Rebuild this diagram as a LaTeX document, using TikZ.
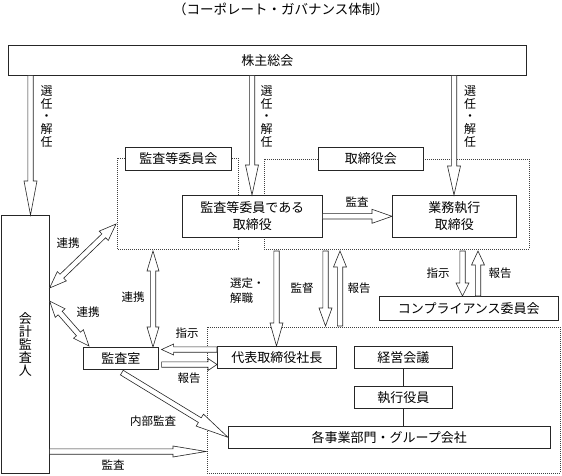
\documentclass[tikz,border=0pt]{standalone}
\usepackage{fontspec}
\setmainfont{Noto Sans CJK JP}
\usetikzlibrary{calc}
% hollow block arrow: {head length}{head half width}{start}{end}
\newcommand{\HArrow}[4]{%
  \coordinate (hArS) at (#3);
  \coordinate (hArE) at (#4);
  \coordinate (hArH) at ($(hArE)!#1pt!(hArS)$);
  \draw[harrow] ($(hArS)!2.7pt!90:(hArE)$) -- ($(hArH)!2.7pt!90:(hArE)$)
    -- ($(hArH)!#2pt!90:(hArE)$) -- (hArE) -- ($(hArH)!#2pt!-90:(hArE)$)
    -- ($(hArH)!2.7pt!-90:(hArE)$) -- ($(hArS)!2.7pt!-90:(hArE)$) -- cycle;
}
% double-headed hollow arrow
\newcommand{\HDArrow}[4]{%
  \coordinate (hArS) at (#3);
  \coordinate (hArE) at (#4);
  \coordinate (hArH) at ($(hArE)!#1pt!(hArS)$);
  \coordinate (hArT) at ($(hArS)!#1pt!(hArE)$);
  \draw[harrow] (hArS) -- ($(hArT)!#2pt!90:(hArE)$) -- ($(hArT)!2.7pt!90:(hArE)$)
    -- ($(hArH)!2.7pt!90:(hArE)$) -- ($(hArH)!#2pt!90:(hArE)$) -- (hArE)
    -- ($(hArH)!#2pt!-90:(hArE)$) -- ($(hArH)!2.7pt!-90:(hArE)$)
    -- ($(hArT)!2.7pt!-90:(hArE)$) -- ($(hArT)!#2pt!-90:(hArE)$) -- cycle;
}
\tikzset{
  harrow/.style={draw=black!85, line width=0.6pt, fill=white, line join=miter},
  box/.style={draw=black!85, line width=0.6pt, fill=white, anchor=north west,
    inner sep=0pt, align=center, font=\fontsize{13}{17}\selectfont},
  lbl/.style={inner sep=0pt, align=center, font=\fontsize{11.5}{15}\selectfont},
  vlbl/.style={inner sep=0pt, align=center, font=\fontsize{12}{12.6}\selectfont},
  region/.style={draw=black!75, line width=0.6pt, dash pattern=on 0.8pt off 1.2pt},
}
\begin{document}
\begin{tikzpicture}[x=1pt,y=-1pt]
\useasboundingbox (0,0) rectangle (562,475);

% title
\node[inner sep=0pt, font=\fontsize{13.5}{15}\selectfont] (title) at (281,9) {（コーポレート・ガバナンス体制）};

% dotted regions
\draw[region] (117,158) rectangle (238,249);
\draw[region] (264,159) rectangle (529,249);
\draw[region] (207,327) rectangle (560,473);

% boxes
\node[box, minimum width=518pt, minimum height=30pt] (gm) at (8,45) {株主総会};
\node[box, minimum width=48pt, minimum height=258pt, font=\fontsize{13}{13}\selectfont] (aud) at (1,215) {会\\計\\監\\査\\人};
\node[box, minimum width=106pt, minimum height=23pt] (acc) at (125,147) {監査等委員会};
\node[box, minimum width=105pt, minimum height=23pt] (bd) at (318,147) {取締役会};
\node[box, minimum width=140pt, minimum height=42pt] (acm) at (182,195) {監査等委員である\\取締役};
\node[box, minimum width=124pt, minimum height=42pt] (exe) at (392,195) {業務執行\\取締役};
\node[box, minimum width=179pt, minimum height=24pt] (comp) at (379,296) {コンプライアンス委員会};
\node[box, minimum width=75pt, minimum height=22pt] (mon) at (83,347) {監査室};
\node[box, minimum width=119pt, minimum height=22pt] (pres) at (217,346) {代表取締役社長};
\node[box, minimum width=98pt, minimum height=22pt] (mgmt) at (354,346) {経営会議};
\node[box, minimum width=98pt, minimum height=22pt] (off) at (354,386) {執行役員};
\node[box, minimum width=322pt, minimum height=22pt] (biz) at (228,426) {各事業部門・グループ会社};

% plain lines
\draw[black!85, line width=0.6pt] (mgmt.south) -- (off.north);
\draw[black!85, line width=0.6pt] (off.south) -- (off.south |- biz.north);

% helper coordinates
\coordinate (x1) at (30.5,0);
\coordinate (x2) at (252,0);
\coordinate (x3) at (454,0);
\coordinate (x4) at (276.5,0);
\coordinate (x5) at (325.5,0);
\coordinate (x6) at (340,0);
\coordinate (x7) at (462.5,0);
\coordinate (x8) at (478,0);
\coordinate (x9) at (153,0);
\coordinate (rb) at (0,251);
\coordinate (r3t) at (0,326);
\coordinate (r3l) at (206,0);
\coordinate (r1l) at (116,224);
\coordinate (yi) at (0,349.5);
\coordinate (yr) at (0,364.5);
\coordinate (yb) at (0,451.5);
\coordinate (y288) at (0,288);
\coordinate (y301) at (0,301);

% election arrows
\HArrow{34}{6.5}{x1 |- gm.south}{x1 |- aud.north}
\HArrow{30}{6.5}{x2 |- gm.south}{x2 |- acm.north}
\HArrow{29}{6.5}{x3 |- gm.south}{x3 |- exe.north}
\node[vlbl] (l1) at (46.5,116.5) {選\\任\\・\\解\\任};
\node[vlbl] (l2) at (266.5,116.5) {選\\任\\・\\解\\任};
\node[vlbl] (l3) at (470,116.5) {選\\任\\・\\解\\任};

% audit between directors
\HArrow{20}{7}{acm.east}{exe.west}
\node[lbl] (la) at (357,202) {監査};

% board -> president etc.
\HArrow{23}{6.5}{x4 |- rb}{x4 |- pres.north}
\node[lbl, anchor=west, align=left] (lsel) at (230,290.5) {選定・\\解職};
\HArrow{18}{6.5}{x5 |- rb}{x5 |- r3t}
\node[lbl] (lsup) at (302,288) {監督};
\HArrow{16}{6.5}{x6 |- r3t}{x6 |- rb}
\node[lbl] (lrep1) at (359,288) {報告};

% compliance
\HArrow{13}{6.5}{x7 |- rb}{x7 |- comp.north}
\node[lbl] (lins1) at (438,273) {指示};
\HArrow{14}{6.5}{x8 |- comp.north}{x8 |- rb}
\node[lbl] (lrep2) at (500,273) {報告};

% cooperation arrows
\HDArrow{20}{6}{x9 |- rb}{x9 |- mon.north}
\node[lbl] (lc1) at (133,297) {連携};
\HDArrow{17}{6.5}{aud.east |- y288}{r1l}
\node[lbl] (lc2) at (68,243) {連携};
\HDArrow{16}{6.5}{aud.east |- y301}{$(mon.north west)+(6,-1)$}
\node[lbl] (lc3) at (88,312) {連携};

% instruction / report between president and audit office
\HArrow{12}{5.5}{pres.west |- yi}{$(mon.east |- yi)+(3,0)$}
\node[lbl] (lins2) at (187,333) {指示};
\HArrow{9}{6}{$(mon.east |- yr)+(3,0)$}{pres.west |- yr}
\node[lbl] (lrep3) at (189,378) {報告};

% internal audit
\HArrow{33}{7}{$(mon.south)+(1,3)$}{biz.west}
\node[lbl] (lint) at (153,421) {内部監査};

% external audit
\HArrow{33}{5.5}{aud.east |- yb}{r3l |- yb}
\node[lbl] (lext) at (113,465) {監査};
\end{tikzpicture}
\end{document}
